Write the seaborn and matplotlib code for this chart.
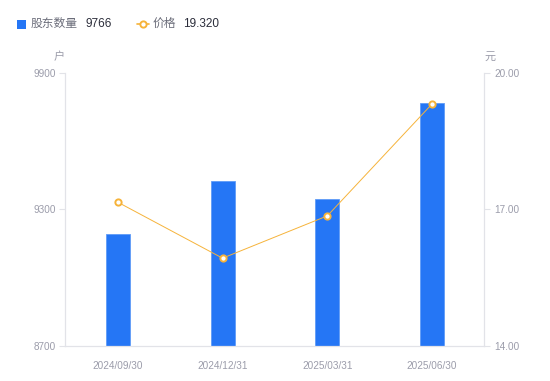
import matplotlib
matplotlib.use("Agg")
import matplotlib.pyplot as plt
import seaborn as sns
import pandas as pd
from matplotlib.patches import Rectangle
from matplotlib.lines import Line2D

dates = ["2024/09/30", "2024/12/31", "2025/03/31", "2025/06/30"]
holders = [9192, 9425, 9346, 9766]
prices = [17.16, 15.93, 16.86, 19.32]
left_ticks = [8700, 9300, 9900]
right_ticks = [14.00, 17.00, 20.00]

sns.set_theme(style="white")
plt.rcParams["font.family"] = ["Liberation Sans", "Noto Sans CJK SC", "DejaVu Sans"]

BLUE = "#2576F5"
ORANGE = "#F6B33A"
TICK = "#9b9caa"
AXIS = "#e2e3e8"

df = pd.DataFrame({"date": dates, "holders": holders, "price": prices, "pos": range(len(dates))})

fig = plt.figure(figsize=(5.5, 3.81), dpi=100)
ax = fig.add_axes([0.119, 0.0919, 0.7618, 0.7165])

sns.barplot(data=df, x="date", y="holders", color=BLUE, width=0.23, ax=ax,
            saturation=1, edgecolor="#5f9cf7", linewidth=0.6)
ax.set_ylim(8700, 9900)
ax.set_xlim(-0.5, 3.5)
ax.set_yticks(left_ticks)
ax.set_yticklabels([str(v) for v in left_ticks])
ax.set_xlabel("")
ax.set_ylabel("")

ax2 = ax.twinx()
sns.lineplot(data=df, x="pos", y="price", ax=ax2, color=ORANGE, linewidth=0.7,
             marker="o", markersize=4.5, markerfacecolor="white",
             markeredgecolor=ORANGE, markeredgewidth=1.4)
ax2.set_ylim(14, 20)
ax2.set_xlim(-0.5, 3.5)
ax2.set_yticks(right_ticks)
ax2.set_yticklabels([f"{v:.2f}" for v in right_ticks])
ax2.set_ylabel("")
ax2.set_xlabel("")

for a in (ax, ax2):
    for s in a.spines.values():
        s.set_visible(False)
    a.grid(False)

ax.spines["left"].set_visible(True)
ax.spines["left"].set_color(AXIS)
ax.spines["bottom"].set_visible(True)
ax.spines["bottom"].set_color(AXIS)
ax2.spines["right"].set_visible(True)
ax2.spines["right"].set_color(AXIS)
for a in (ax, ax2):
    for s in a.spines.values():
        s.set_linewidth(0.9)

ax.tick_params(axis="y", left=True, length=4, width=0.8, color=AXIS, labelsize=7.2,
               labelcolor=TICK, pad=3)
ax.tick_params(axis="x", bottom=False, labelsize=7.2, labelcolor=TICK, pad=5)
ax2.tick_params(axis="y", right=True, length=4, width=0.8, color=AXIS, labelsize=7.2,
                labelcolor=TICK, pad=3)

# unit labels
fig.text(59 / 550, 1 - 57 / 381, "户", fontsize=8, color=TICK, ha="center", va="center")
fig.text(490 / 550, 1 - 57 / 381, "元", fontsize=8, color=TICK, ha="center", va="center")

# legend
ly = 1 - 24 / 381
fig.patches.append(Rectangle((17 / 550, ly - 4.5 / 381), 9 / 550, 9 / 381, transform=fig.transFigure,
                             facecolor=BLUE, edgecolor="none"))
fig.text(31 / 550, ly, "股东数量", fontsize=8.5, color="#6b6d7a", ha="left", va="center")
fig.text(85 / 550, ly, "9766", fontsize=8.5, color="#2b2d3a", ha="left", va="center")
fig.lines.append(Line2D([137 / 550, 149 / 550], [ly, ly], transform=fig.transFigure,
                        color=ORANGE, linewidth=1.2))
fig.lines.append(Line2D([143 / 550], [ly], transform=fig.transFigure, color=ORANGE,
                        marker="o", markersize=4.5, markerfacecolor="white",
                        markeredgecolor=ORANGE, markeredgewidth=1.4, linestyle="none"))
fig.text(153 / 550, ly, "价格", fontsize=8.5, color="#6b6d7a", ha="left", va="center")
fig.text(183 / 550, ly, "19.320", fontsize=8.5, color="#2b2d3a", ha="left", va="center")

fig.savefig("out.png", dpi=100)
